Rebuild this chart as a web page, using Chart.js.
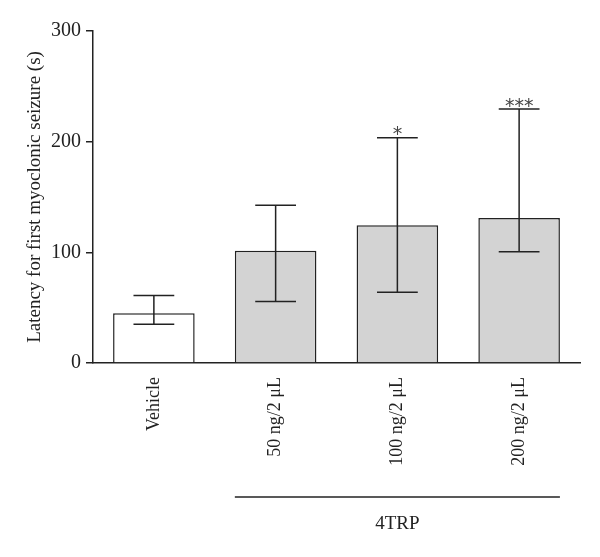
<!DOCTYPE html>
<html>
<head>
  <title>Latency for first myoclonic seizure</title>
  <script src="https://cdn.jsdelivr.net/npm/chart.js"></script>
  <style>
    body { margin: 0; background: #fff; }
  </style>
</head>
<body>
  <canvas id="chart" width="600" height="557"></canvas>
  <script>
    // values
    const categories = ['Vehicle', '50 ng/2 μL', '100 ng/2 μL', '200 ng/2 μL'];
    const means = [45, 101.5, 124.5, 131];
    const errLow = [35, 55.5, 64, 100.5];
    const errHigh = [61, 142.5, 203.5, 229.5];
    const stars = [0, 0, 1, 3];
    const fills = ['#ffffff', '#d3d3d3', '#d3d3d3', '#d3d3d3'];
    const groupLabel = '4TRP';
    const groupFrom = 1, groupTo = 3;

    const ink = '#222';
    const serif = "'Liberation Serif', 'DejaVu Serif', serif";

    // error bars, asterisks and the group bracket under the labels
    const extras = {
      id: 'extras',
      afterDatasetsDraw(chart) {
        const ctx = chart.ctx;
        const y = chart.scales.y;
        const meta = chart.getDatasetMeta(0);
        ctx.save();
        ctx.strokeStyle = ink;
        ctx.lineWidth = 1.5;
        meta.data.forEach((bar, i) => {
          const half = bar.width / 4;
          const yTop = y.getPixelForValue(errHigh[i]);
          const yBot = y.getPixelForValue(errLow[i]);
          ctx.beginPath();
          ctx.moveTo(bar.x, yTop); ctx.lineTo(bar.x, yBot);
          ctx.moveTo(bar.x - half, yTop); ctx.lineTo(bar.x + half, yTop);
          ctx.moveTo(bar.x - half, yBot); ctx.lineTo(bar.x + half, yBot);
          ctx.stroke();
          if (stars[i]) {
            ctx.fillStyle = '#444';
            ctx.font = "19px 'DejaVu Sans', sans-serif";
            ctx.textAlign = 'center';
            ctx.textBaseline = 'alphabetic';
            const m = ctx.measureText('*');
            const base = yTop - 7 + (m.actualBoundingBoxAscent - m.actualBoundingBoxDescent) / 2;
            const step = 9.5;
            for (let k = 0; k < stars[i]; k++) {
              const sx = bar.x + (k - (stars[i] - 1) / 2) * step;
              ctx.fillText('*', sx, base);
            }
          }
        });
        // bracket
        const a = meta.data[groupFrom], b = meta.data[groupTo];
        const x1 = a.x - a.width / 2, x2 = b.x + b.width / 2;
        ctx.beginPath();
        ctx.moveTo(x1, 497); ctx.lineTo(x2, 497);
        ctx.stroke();
        ctx.fillStyle = ink;
        ctx.font = '19px ' + serif;
        ctx.textAlign = 'center';
        ctx.textBaseline = 'middle';
        ctx.fillText(groupLabel, (x1 + x2) / 2, 524);
        ctx.restore();
      }
    };

    const ctx = document.getElementById('chart').getContext('2d');
    const chart = new Chart(ctx, {
      type: 'bar',
      data: {
        labels: categories,
        datasets: [{
          data: means,
          backgroundColor: fills,
          borderColor: ink,
          borderWidth: 1.5,
          barPercentage: 0.67,
          categoryPercentage: 1
        }]
      },
      options: {
        responsive: false,
        animation: false,
        layout: { padding: { top: 31, right: 20, left: 0, bottom: 0 } },
        plugins: {
          legend: { display: false },
          tooltip: { enabled: false }
        },
        scales: {
          x: {
            afterFit: (s) => { s.height = 194; },
            grid: { display: false },
            border: { color: ink, width: 1.5 },
            ticks: {
              color: ink,
              font: { family: serif, size: 18 },
              minRotation: 90,
              maxRotation: 90,
              autoSkip: false,
              padding: 6
            }
          },
          y: {
            min: 0,
            max: 300,
            afterFit: (s) => { s.width = 93; },
            grid: { drawOnChartArea: false, tickLength: 7, color: ink, lineWidth: 1.5 },
            border: { color: ink, width: 1.5 },
            ticks: {
              stepSize: 100,
              color: ink,
              padding: 5,
              font: { family: serif, size: 20 }
            },
            title: {
              display: true,
              text: 'Latency for first myoclonic seizure (s)',
              color: ink,
              font: { family: serif, size: 19 },
              padding: { top: 24, bottom: 0 }
            }
          }
        }
      },
      plugins: [extras]
    });
  </script>
</body>
</html>
